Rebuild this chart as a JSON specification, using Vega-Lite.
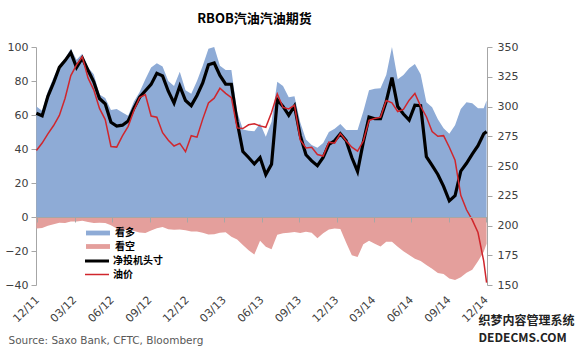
{
  "$schema": "https://vega.github.io/schema/vega-lite/v6.json",
  "width": 451,
  "height": 238,
  "autosize": {"type": "none"},
  "padding": {"left": 36, "top": 47, "right": 100, "bottom": 66},
  "background": "white",
  "config": {"view": {"stroke": null}, "font": "DejaVu Sans"},
  "title": {"text": "RBOB汽油汽油期货", "font": "Noto Sans CJK SC", "fontSize": 13, "fontWeight": "bold", "color": "#000000", "anchor": "middle", "offset": 15, "dx": -7},
  "data": {"values": [
    {"date": "2011-11-29", "long": 65, "short": -6.7, "net": 61, "oil": 263},
    {"date": "2011-12-13", "long": 62.5, "short": -6.5, "net": 59.5, "oil": 269.3},
    {"date": "2011-12-27", "long": 74, "short": -5.1, "net": 71, "oil": 277},
    {"date": "2012-01-10", "long": 82, "short": -4.2, "net": 79, "oil": 284},
    {"date": "2012-01-24", "long": 89.4, "short": -3.4, "net": 88, "oil": 292.5},
    {"date": "2012-02-07", "long": 93.3, "short": -3.5, "net": 92, "oil": 307},
    {"date": "2012-02-21", "long": 99, "short": -2.7, "net": 96.7, "oil": 326},
    {"date": "2012-03-06", "long": 92.5, "short": -2.7, "net": 88, "oil": 335},
    {"date": "2012-03-20", "long": 96, "short": -2.2, "net": 93.5, "oil": 341.8},
    {"date": "2012-04-03", "long": 88, "short": -2.9, "net": 86.3, "oil": 324},
    {"date": "2012-04-17", "long": 84, "short": -3.6, "net": 79.5, "oil": 314},
    {"date": "2012-05-01", "long": 72, "short": -3.4, "net": 69.7, "oil": 298.4},
    {"date": "2012-05-15", "long": 70, "short": -3.6, "net": 66.6, "oil": 289},
    {"date": "2012-05-29", "long": 63, "short": -4.9, "net": 55.7, "oil": 266.4},
    {"date": "2012-06-12", "long": 63.5, "short": -6.7, "net": 53.5, "oil": 265.9},
    {"date": "2012-06-26", "long": 61.5, "short": -7.5, "net": 54, "oil": 275.3},
    {"date": "2012-07-10", "long": 59.5, "short": -7.3, "net": 56.5, "oil": 283.3},
    {"date": "2012-07-24", "long": 68, "short": -8.2, "net": 64, "oil": 296.7},
    {"date": "2012-08-07", "long": 73.5, "short": -9.1, "net": 70.5, "oil": 307.6},
    {"date": "2012-08-21", "long": 81, "short": -9.4, "net": 74.3, "oil": 310},
    {"date": "2012-09-04", "long": 88, "short": -7.9, "net": 78, "oil": 292},
    {"date": "2012-09-18", "long": 90.4, "short": -6.6, "net": 84.5, "oil": 291},
    {"date": "2012-10-02", "long": 88.5, "short": -5.9, "net": 83, "oil": 278},
    {"date": "2012-10-16", "long": 80, "short": -7.2, "net": 74, "oil": 271.7},
    {"date": "2012-10-30", "long": 77, "short": -7.5, "net": 67, "oil": 266.8},
    {"date": "2012-11-13", "long": 85.5, "short": -7.3, "net": 77, "oil": 269},
    {"date": "2012-11-27", "long": 74.5, "short": -7.8, "net": 68.5, "oil": 262},
    {"date": "2012-12-11", "long": 72.5, "short": -8.6, "net": 65.5, "oil": 275.5},
    {"date": "2012-12-25", "long": 80, "short": -8.6, "net": 71.5, "oil": 274.2},
    {"date": "2013-01-08", "long": 89, "short": -9.3, "net": 78.9, "oil": 289.4},
    {"date": "2013-01-22", "long": 99, "short": -10.3, "net": 89.6, "oil": 303},
    {"date": "2013-02-05", "long": 100, "short": -10.2, "net": 90.6, "oil": 307},
    {"date": "2013-02-19", "long": 89, "short": -9.3, "net": 83.3, "oil": 315.3},
    {"date": "2013-03-05", "long": 86.5, "short": -9.0, "net": 78.2, "oil": 311},
    {"date": "2013-03-19", "long": 86.5, "short": -11.6, "net": 78.1, "oil": 307.5},
    {"date": "2013-04-02", "long": 62, "short": -13.3, "net": 56, "oil": 282},
    {"date": "2013-04-16", "long": 51.5, "short": -16.4, "net": 38.5, "oil": 281.5},
    {"date": "2013-04-30", "long": 50.8, "short": -19.5, "net": 35, "oil": 284.6},
    {"date": "2013-05-14", "long": 50.5, "short": -22, "net": 31.2, "oil": 285.5},
    {"date": "2013-05-28", "long": 55, "short": -14, "net": 35, "oil": 283.7},
    {"date": "2013-06-11", "long": 47.2, "short": -17.5, "net": 25, "oil": 282.5},
    {"date": "2013-06-25", "long": 56, "short": -19, "net": 31, "oil": 295},
    {"date": "2013-07-09", "long": 79.5, "short": -10.5, "net": 69, "oil": 310.6},
    {"date": "2013-07-23", "long": 77, "short": -9.6, "net": 65, "oil": 299.2},
    {"date": "2013-08-06", "long": 70.5, "short": -9.2, "net": 59.8, "oil": 298},
    {"date": "2013-08-20", "long": 71, "short": -8.8, "net": 65.3, "oil": 301},
    {"date": "2013-09-03", "long": 55.8, "short": -9.4, "net": 48, "oil": 271.8},
    {"date": "2013-09-17", "long": 45.6, "short": -8.7, "net": 36.6, "oil": 265.2},
    {"date": "2013-10-01", "long": 42.4, "short": -9.3, "net": 33, "oil": 265.8},
    {"date": "2013-10-15", "long": 40.8, "short": -12.5, "net": 30.2, "oil": 259.6},
    {"date": "2013-10-29", "long": 43.5, "short": -9.6, "net": 35, "oil": 258.4},
    {"date": "2013-11-12", "long": 50, "short": -7.4, "net": 42.7, "oil": 270},
    {"date": "2013-11-26", "long": 51.9, "short": -6.7, "net": 44.8, "oil": 269.2},
    {"date": "2013-12-10", "long": 54.7, "short": -7, "net": 49, "oil": 277.2},
    {"date": "2013-12-24", "long": 51.2, "short": -15, "net": 45, "oil": 271.2},
    {"date": "2014-01-07", "long": 51.2, "short": -22.5, "net": 35, "oil": 265.8},
    {"date": "2014-01-21", "long": 51.2, "short": -23.6, "net": 26.8, "oil": 262.5},
    {"date": "2014-02-04", "long": 62, "short": -16, "net": 44, "oil": 271},
    {"date": "2014-02-18", "long": 74.6, "short": -14, "net": 58.8, "oil": 288.3},
    {"date": "2014-03-04", "long": 75.5, "short": -15.7, "net": 57.8, "oil": 290},
    {"date": "2014-03-18", "long": 75.7, "short": -17.4, "net": 57.8, "oil": 291},
    {"date": "2014-04-01", "long": 83.5, "short": -14.5, "net": 68, "oil": 305},
    {"date": "2014-04-15", "long": 100, "short": -14.5, "net": 82, "oil": 303},
    {"date": "2014-04-29", "long": 81, "short": -17.5, "net": 65, "oil": 295.8},
    {"date": "2014-05-13", "long": 83.5, "short": -20.2, "net": 60.6, "oil": 297.5},
    {"date": "2014-05-27", "long": 87.5, "short": -22.4, "net": 57, "oil": 305.3},
    {"date": "2014-06-10", "long": 90, "short": -24.5, "net": 65.8, "oil": 311},
    {"date": "2014-06-24", "long": 84, "short": -25.9, "net": 65.5, "oil": 300.2},
    {"date": "2014-07-08", "long": 67.5, "short": -28.3, "net": 35.5, "oil": 291.4},
    {"date": "2014-07-22", "long": 64.5, "short": -30.4, "net": 30.4, "oil": 279},
    {"date": "2014-08-05", "long": 57.5, "short": -33, "net": 25, "oil": 275},
    {"date": "2014-08-19", "long": 52.2, "short": -33.5, "net": 18, "oil": 275.5},
    {"date": "2014-09-02", "long": 49, "short": -36.2, "net": 9.5, "oil": 265.8},
    {"date": "2014-09-16", "long": 54, "short": -37, "net": 12.5, "oil": 254.8},
    {"date": "2014-09-30", "long": 63.5, "short": -35.5, "net": 27, "oil": 225.4},
    {"date": "2014-10-14", "long": 67.5, "short": -32.8, "net": 31.6, "oil": 213.2},
    {"date": "2014-10-28", "long": 66.9, "short": -31, "net": 37, "oil": 204.7},
    {"date": "2014-11-11", "long": 64, "short": -26, "net": 42, "oil": 194.1},
    {"date": "2014-11-25", "long": 64, "short": -20.5, "net": 49, "oil": 170},
    {"date": "2014-12-02", "long": 68.5, "short": -15.8, "net": 50.2, "oil": 152}
  ]},
  "layer": [
    {
      "encoding": {
        "x": {
          "field": "date", "type": "temporal",
          "scale": {"type": "utc", "domain": [{"year": 2011, "month": 11, "date": 28, "utc": true}, {"year": 2014, "month": 12, "date": 3, "utc": true}]},
          "axis": {
            "orient": "bottom",
            "values": [
              {"year": 2011, "month": 12, "date": 1, "utc": true},
              {"year": 2012, "month": 3, "date": 1, "utc": true},
              {"year": 2012, "month": 6, "date": 1, "utc": true},
              {"year": 2012, "month": 9, "date": 1, "utc": true},
              {"year": 2012, "month": 12, "date": 1, "utc": true},
              {"year": 2013, "month": 3, "date": 1, "utc": true},
              {"year": 2013, "month": 6, "date": 1, "utc": true},
              {"year": 2013, "month": 9, "date": 1, "utc": true},
              {"year": 2013, "month": 12, "date": 1, "utc": true},
              {"year": 2014, "month": 3, "date": 1, "utc": true},
              {"year": 2014, "month": 6, "date": 1, "utc": true},
              {"year": 2014, "month": 9, "date": 1, "utc": true},
              {"year": 2014, "month": 12, "date": 1, "utc": true}
            ],
            "format": "%m/%y",
            "labelAngle": -45,
            "labelAlign": "right",
            "labelBaseline": "middle",
            "labelPadding": 13,
            "labelFontSize": 11,
            "labelColor": "#404040",
            "labelFlush": false,
            "labelOverlap": false,
            "domain": false,
            "ticks": false,
            "grid": false,
            "title": "Source: Saxo Bank, CFTC, Bloomberg",
            "titleX": -28,
            "titleY": 58,
            "titleAlign": "left",
            "titleAnchor": null,
            "titleBaseline": "alphabetic",
            "titleAngle": 0,
            "titleFontSize": 10.5,
            "titleFontWeight": "normal",
            "titleColor": "#595959"
          }
        }
      },
      "layer": [
        {
          "mark": {"type": "area", "interpolate": "linear"},
          "encoding": {
            "y": {
              "field": "long", "type": "quantitative",
              "scale": {"domain": [-40, 100], "nice": false, "zero": false},
              "axis": {
                "orient": "left",
                "values": [-40, -20, 0, 20, 40, 60, 80, 100],
                "labelFontSize": 11,
                "labelColor": "#404040",
                "labelPadding": 3,
                "domainColor": "#A6A6A6",
                "tickColor": "#A6A6A6",
                "tickSize": 5,
                "grid": false,
                "title": null
              }
            },
            "y2": {"datum": 0},
            "fill": {
              "datum": "看多",
              "scale": {"domain": ["看多", "看空"], "range": ["#8EABD6", "#E49F9C"]},
              "legend": {
                "orient": "none",
                "legendX": 56,
                "legendY": 180,
                "title": null,
                "padding": 0,
                "rowPadding": 2.5,
                "symbolType": "M-2,-0.4H2V0.4H-2Z",
                "symbolSize": 144,
                "symbolStrokeWidth": 0,
                "labelOffset": 11,
                "labelFont": "Noto Sans CJK SC",
                "labelFontSize": 10,
                "labelFontWeight": "bold",
                "labelColor": "#000000"
              }
            }
          }
        },
        {
          "mark": {"type": "area", "interpolate": "linear"},
          "encoding": {
            "y": {
              "field": "short", "type": "quantitative",
              "scale": {"domain": [-40, 100], "nice": false, "zero": false},
              "axis": {
                "orient": "left",
                "values": [-40, -20, 0, 20, 40, 60, 80, 100],
                "labelFontSize": 11,
                "labelColor": "#404040",
                "labelPadding": 3,
                "domainColor": "#A6A6A6",
                "tickColor": "#A6A6A6",
                "tickSize": 5,
                "grid": false,
                "title": null
              }
            },
            "y2": {"datum": 0},
            "fill": {"datum": "看空"}
          }
        },
        {
          "mark": {"type": "line", "interpolate": "linear", "strokeWidth": 3.2},
          "encoding": {
            "y": {
              "field": "net", "type": "quantitative",
              "scale": {"domain": [-40, 100], "nice": false, "zero": false},
              "axis": {
                "orient": "left",
                "values": [-40, -20, 0, 20, 40, 60, 80, 100],
                "labelFontSize": 11,
                "labelColor": "#404040",
                "labelPadding": 3,
                "domainColor": "#A6A6A6",
                "tickColor": "#A6A6A6",
                "tickSize": 5,
                "grid": false,
                "title": null
              }
            },
            "stroke": {
              "datum": "净投机头寸",
              "scale": {"domain": ["净投机头寸", "油价"], "range": ["#000000", "#D0262C"]},
              "legend": {
                "orient": "none",
                "legendX": 56,
                "legendY": 209,
                "title": null,
                "padding": 0,
                "rowPadding": 2.5,
                "symbolType": "M-2,0H2",
                "symbolSize": 144,
                "labelOffset": 11,
                "labelFont": "Noto Sans CJK SC",
                "labelFontSize": 10,
                "labelFontWeight": "bold",
                "labelColor": "#000000",
                "encode": {
                  "symbols": {
                    "update": {
                      "fill": {"value": "transparent"},
                      "strokeWidth": {"signal": "datum.value === '净投机头寸' ? 3 : 1.5"}
                    }
                  }
                }
              }
            }
          }
        }
      ]
    },
    {
      "mark": {"type": "line", "interpolate": "linear", "strokeWidth": 1.5},
      "encoding": {
        "x": {
          "field": "date", "type": "temporal",
          "scale": {"type": "utc", "domain": [{"year": 2011, "month": 11, "date": 28, "utc": true}, {"year": 2014, "month": 12, "date": 3, "utc": true}]},
          "axis": {
            "orient": "top",
            "offset": -170,
            "values": [
              {"year": 2011, "month": 12, "date": 1, "utc": true},
              {"year": 2012, "month": 3, "date": 1, "utc": true},
              {"year": 2012, "month": 6, "date": 1, "utc": true},
              {"year": 2012, "month": 9, "date": 1, "utc": true},
              {"year": 2012, "month": 12, "date": 1, "utc": true},
              {"year": 2013, "month": 3, "date": 1, "utc": true},
              {"year": 2013, "month": 6, "date": 1, "utc": true},
              {"year": 2013, "month": 9, "date": 1, "utc": true},
              {"year": 2013, "month": 12, "date": 1, "utc": true},
              {"year": 2014, "month": 3, "date": 1, "utc": true},
              {"year": 2014, "month": 6, "date": 1, "utc": true},
              {"year": 2014, "month": 9, "date": 1, "utc": true},
              {"year": 2014, "month": 12, "date": 1, "utc": true}
            ],
            "labels": false,
            "domain": true,
            "domainColor": "#A6A6A6",
            "ticks": true,
            "tickSize": -5,
            "tickColor": "#A6A6A6",
            "grid": false,
            "title": null,
            "zindex": 1
          }
        },
        "y": {
          "field": "oil", "type": "quantitative",
          "scale": {"domain": [150, 350], "nice": false, "zero": false},
          "axis": {
            "orient": "right",
            "values": [150, 175, 200, 225, 250, 275, 300, 325, 350],
            "labelFontSize": 11,
            "labelColor": "#404040",
            "labelPadding": 5,
            "domainColor": "#A6A6A6",
            "tickColor": "#A6A6A6",
            "tickSize": 5,
            "grid": false,
            "title": ["织梦内容管理系统", "DEDECMS.COM"],
            "titleAngle": 0,
            "titleAlign": "left",
            "titleBaseline": "top",
            "titleX": -9,
            "titleY": 268,
            "titleFont": "Noto Sans CJK SC",
            "titleFontSize": 12,
            "titleFontWeight": "bold",
            "titleColor": "#222222",
            "titleLineHeight": 17
          }
        },
        "stroke": {"datum": "油价"}
      }
    }
  ],
  "resolve": {"scale": {"y": "independent"}, "axis": {"x": "independent", "y": "independent"}}
}
